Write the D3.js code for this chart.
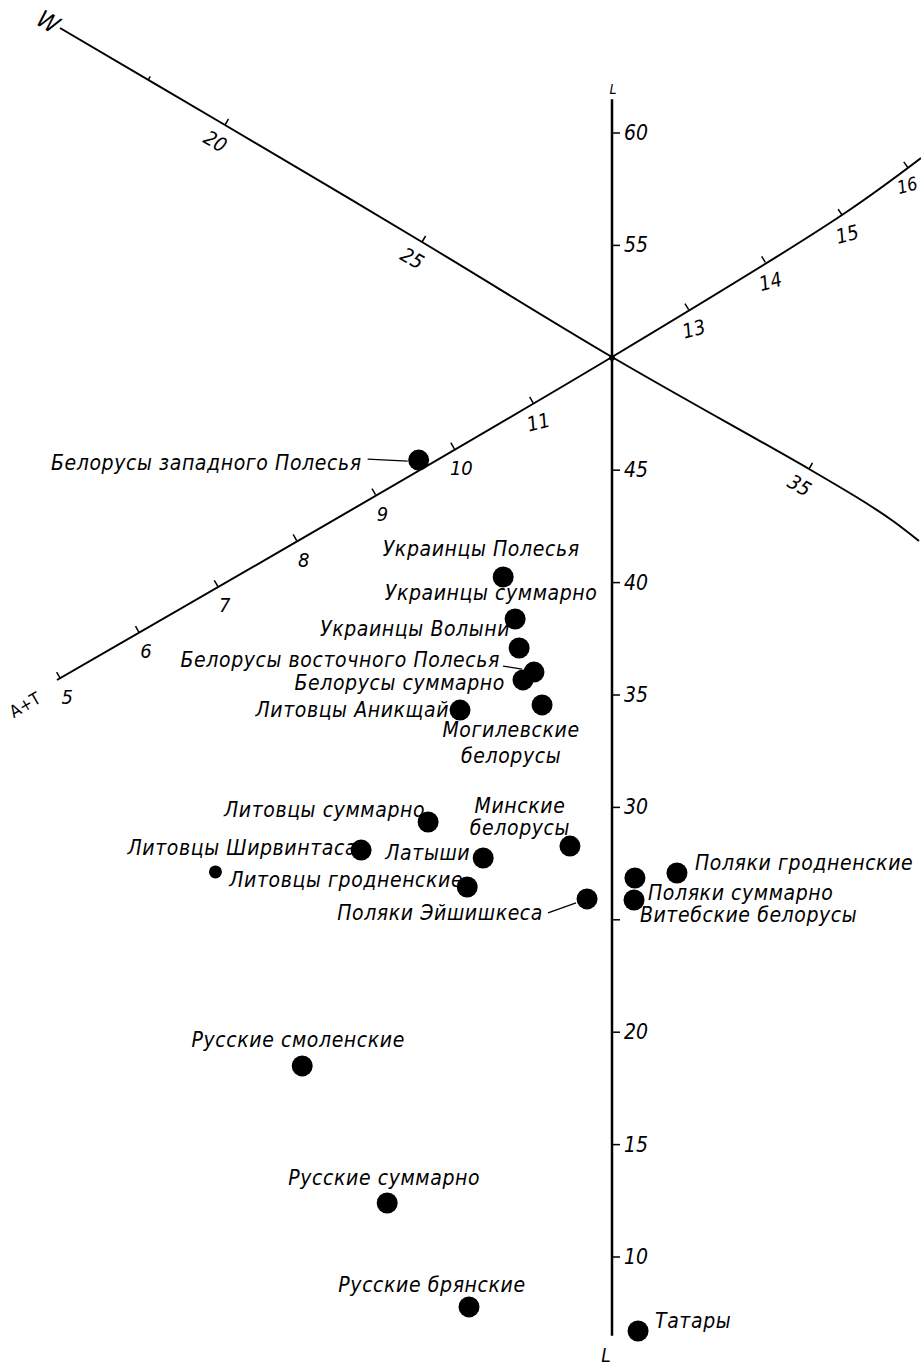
<!DOCTYPE html>
<html>
<head>
<meta charset="utf-8">
<script src="https://cdnjs.cloudflare.com/ajax/libs/d3/7.8.5/d3.min.js"></script>
<style>
  body { margin: 0; background: white; }
  text { font-family: "Liberation Sans Narrow", "DejaVu Sans Condensed", sans-serif; font-style: italic; fill: #000; }
</style>
</head>
<body>
<div id="grafico"></div>
<script>
// groups, horizontal shift from the L axis (in L units) and L value
var names = ["Белорусы западного Полесья", "Украинцы Полесья", "Украинцы суммарно", "Украинцы Волыни",
    "Белорусы восточного Полесья", "Белорусы суммарно", "Литовцы Аникщай", "Могилевские белорусы",
    "Литовцы суммарно", "Минские белорусы", "Литовцы Ширвинтаса", "Латыши", "",
    "Литовцы гродненские", "Поляки Эйшишкеса", "Поляки гродненские", "Витебские белорусы",
    "Поляки суммарно", "Русские смоленские", "Русские суммарно", "Русские брянские", "Татары"];
var shiftX = [-8.6, -4.84, -4.31, -4.13, -3.47, -3.96, -6.76, -3.11, -8.18, -1.87, -11.16, -5.73,
    -17.64, -6.44, -1.11, 2.89, 1.02, 0.98, -13.78, -10.0, -6.36, 1.16];
var valueL = [45.45, 40.25, 38.38, 37.09, 36.02, 35.67, 34.33, 34.56, 29.35, 28.28, 28.1, 27.75,
    27.13, 26.46, 25.93, 27.08, 26.86, 25.88, 18.5, 12.4, 7.78, 6.71];
var small = [12];

var lTicks = [10, 15, 20, 25, 30, 35, 40, 45, 55, 60],
    lTickLabels = ["10", "15", "20", "", "30", "35", "40", "45", "55", "60"];
var atTicks = [5, 6, 7, 8, 9, 10, 11, 13, 14, 15, 16];
var wTicks = [18, 20, 25, 35],
    wTickLabels = ["", "20", "25", "35"];

// label placement: anchor, dx, dy (one dy per line)
var labelPos = [
    ["end", -57, [10]], ["middle", -22, [-21]], ["middle", -24, [-19]], ["end", -9, [-12]],
    ["end", -34, [-5]], ["end", -18, [10]], ["end", -11, [7]], ["middle", -31, [32, 58]],
    ["end", -3, [-5]], ["middle", -50, [-33, -11]], ["end", -4, [5]], ["end", -13, [2]], null,
    ["end", -4, [0]], ["end", -44, [21]], ["start", 18, [-3]], ["start", 5, [44]], ["start", 14, [0]],
    ["middle", -4, [-19]], ["middle", -3, [-18]], ["middle", -37, [-15]], ["start", 17, [-3]]
];
var leaders = {0: [-51, -1, -11, 1], 4: [-31, -6, -12, -3], 14: [-39, 14, -11, 4]};

var w = 921, h = 1366;

var svg = d3.select("#grafico")
            .append("svg")
            .attr("width", w)
            .attr("height", h)
            .style("background-color", "white");

var yL = d3.scaleLinear().domain([10, 60]).range([1257, 133]),
    xU = d3.scaleLinear().domain([0, 10]).range([612, 612 + 224.8]);

// oblique axes, piecewise to follow the bend of the print
var atDom = [4.96, 12, 15, 16.2],
    atX = d3.scaleLinear().domain(atDom).range([57, 612, 842, 921]),
    atY = d3.scaleLinear().domain(atDom).range([680, 357, 215, 158]),
    wDom = [15.7, 20, 25, 30, 35, 36.5, 37.3, 38.2],
    wX = d3.scaleLinear().domain(wDom).range([60, 225, 422, 612, 809, 866, 893, 919]),
    wY = d3.scaleLinear().domain(wDom).range([28, 125, 242, 357, 469, 503, 521, 541]);

var line = d3.line().curve(d3.curveCatmullRom);

function axisPath(sx, sy, dom) {
    return line(dom.map(function (v) { return [sx(v), sy(v)]; }));
}

// L axis
svg.append("line")
    .attr("x1", 612).attr("x2", 612)
    .attr("y1", yL(61.5)).attr("y2", yL(6.5))
    .attr("stroke", "black").attr("stroke-width", 2.5);

svg.selectAll(".lt").data(lTicks).enter().append("line")
    .attr("x1", 612).attr("x2", 620)
    .attr("y1", function (d) { return yL(d); }).attr("y2", function (d) { return yL(d); })
    .attr("stroke", "black").attr("stroke-width", 1.5);

svg.selectAll(".ltl").data(lTicks).enter().append("text")
    .attr("x", 624)
    .attr("y", function (d) { return yL(d) + 7; })
    .style("font-size", "21px")
    .text(function (d, i) { return lTickLabels[i]; });

svg.append("text").attr("x", 613).attr("y", 94).attr("text-anchor", "middle")
    .style("font-size", "14px").text("L");
svg.append("text").attr("x", 606).attr("y", 1362).attr("text-anchor", "middle")
    .style("font-size", "19px").text("L");

// A+T axis
svg.append("path")
    .attr("d", axisPath(atX, atY, atDom))
    .attr("fill", "none").attr("stroke", "black").attr("stroke-width", 2);

atTicks.forEach(function (v) {
    var x = atX(v), y = atY(v),
        dx = atX(v + 0.05) - atX(v - 0.05), dy = atY(v + 0.05) - atY(v - 0.05),
        len = Math.sqrt(dx * dx + dy * dy),
        nx = dy / len, ny = -dx / len;
    svg.append("line")
        .attr("x1", x).attr("y1", y)
        .attr("x2", x + nx * 7).attr("y2", y + ny * 7)
        .attr("stroke", "black").attr("stroke-width", 1.5);
    svg.append("text")
        .attr("text-anchor", "middle")
        .attr("transform", "translate(" + (x + (v == 16 ? 1 : 7)) + "," + (y + (v == 16 ? 24 : 26)) + ") rotate(" + (v >= 11 ? -15 : 0) + ")")
        .style("font-size", v == 16 ? "18px" : "20px")
        .text(v);
});

svg.append("text")
    .attr("text-anchor", "middle")
    .attr("transform", "translate(28,710) rotate(-30)")
    .style("font-size", "17px").style("font-style", "normal")
    .text("A+T");

// W axis
svg.append("path")
    .attr("d", axisPath(wX, wY, wDom))
    .attr("fill", "none").attr("stroke", "black").attr("stroke-width", 2);

wTicks.forEach(function (v, i) {
    var x = wX(v), y = wY(v),
        dx = wX(v + 0.05) - wX(v - 0.05), dy = wY(v + 0.05) - wY(v - 0.05),
        len = Math.sqrt(dx * dx + dy * dy),
        nx = dy / len, ny = -dx / len,
        tl = wTickLabels[i] ? 7 : 4;
    svg.append("line")
        .attr("x1", x).attr("y1", y)
        .attr("x2", x + nx * tl).attr("y2", y + ny * tl)
        .attr("stroke", "black").attr("stroke-width", 1.5);
    svg.append("text")
        .attr("text-anchor", "middle")
        .attr("transform", "translate(" + (x - nx * 19) + "," + (y - ny * 19) + ") rotate(30)")
        .attr("dy", "0.35em")
        .style("font-size", "20px")
        .text(wTickLabels[i]);
});

svg.append("text")
    .attr("text-anchor", "middle")
    .attr("transform", "translate(44,29) rotate(30)")
    .style("font-size", "24px")
    .text("W");

// centre point
svg.append("circle").attr("cx", 612).attr("cy", yL(50)).attr("r", 3).attr("fill", "black");

// points
svg.selectAll(".pt").data(names).enter().append("circle")
    .attr("cx", function (d, i) { return xU(shiftX[i]); })
    .attr("cy", function (d, i) { return yL(valueL[i]); })
    .attr("r", function (d, i) { return small.indexOf(i) >= 0 ? 6.5 : 10.5; })
    .attr("fill", "black");

names.forEach(function (name, i) {
    var p = labelPos[i];
    if (!p) return;
    var cx = xU(shiftX[i]), cy = yL(valueL[i]);
    var parts = p[2].length > 1 ? name.split(" ") : [name];
    p[2].forEach(function (dy, k) {
        svg.append("text")
            .attr("x", cx + p[1])
            .attr("y", cy + dy)
            .attr("text-anchor", p[0])
            .style("font-size", "21px")
            .style("letter-spacing", "0.6px")
            .text(parts[k]);
    });
    if (leaders[i]) {
        var l = leaders[i];
        svg.append("line")
            .attr("x1", cx + l[0]).attr("y1", cy + l[1])
            .attr("x2", cx + l[2]).attr("y2", cy + l[3])
            .attr("stroke", "black").attr("stroke-width", 1.3);
    }
});
</script>
</body>
</html>
